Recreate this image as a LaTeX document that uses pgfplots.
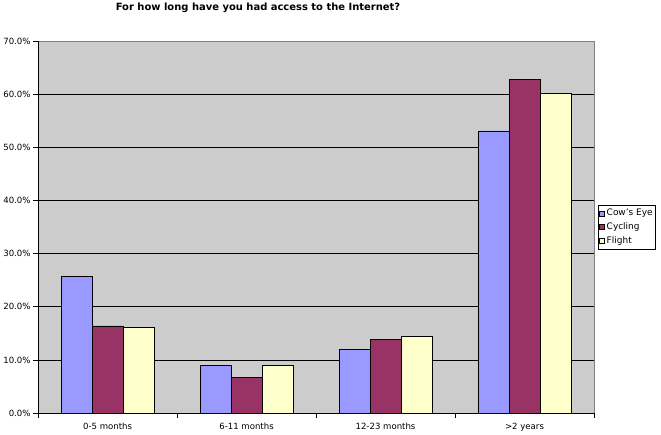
\documentclass[border=0pt]{standalone}
\usepackage{pgfplots}
\pgfplotsset{compat=1.18}
\usepackage{fontspec}
\setmainfont{DejaVu Sans}
\definecolor{bggray}{HTML}{CCCCCC}
\definecolor{cowc}{HTML}{9999FF}
\definecolor{cycc}{HTML}{993366}
\definecolor{flic}{HTML}{FFFFCC}
\begin{document}
\begin{tikzpicture}[x=1bp,y=1bp]
\path (-38bp,-20bp) rectangle (623bp,413bp);
\begin{axis}[
  at={(0,0)}, anchor=south west,
  scale only axis, width=556bp, height=372bp,
  ybar=0pt, bar width=31bp,
  xmin=-0.5, xmax=3.5, ymin=0, ymax=70,
  xtick={0,1,2,3},
  xticklabels={0-5 months,6-11 months,12-23 months,>2 years},
  minor xtick={-0.5,0.5,1.5,2.5,3.5},
  major x tick style={draw=none},
  minor tick length=5bp,
  tick align=outside,
  ytick={0,10,...,60},
  extra y ticks={70}, extra y tick style={grid=none},
  ymajorgrids, major grid style={black, line width=0.8pt},
  major tick length=5bp,
  tick style={black, line width=0.8pt},
  yticklabel={\pgfmathprintnumber[fixed,fixed zerofill,precision=1]{\tick}\%},
  /pgf/number format/assume math mode=true,
  ticklabel style={font=\fontsize{8.6}{9}\selectfont},
  yticklabel style={xshift=1bp},
  xticklabel style={yshift=-1bp},
  axis lines*=left,
  axis line style={black, line width=0.8pt, -},
  axis background/.style={fill=bggray, draw=gray, line width=0.8pt},
  legend style={at={(1,0.5)}, anchor=west, xshift=4bp, draw=black, line width=0.5pt,
    font=\fontsize{9}{10}\selectfont, row sep=1.5pt, inner xsep=1pt, inner ysep=2pt},
  legend cell align=left,
  legend image code/.code={\draw[#1, draw=black, line width=0.4pt] (0cm,-0.09cm) rectangle (0.18cm,0.09cm);},
]
\addplot[fill=cowc, draw=black, line width=0.8pt] coordinates {(0,25.8) (1,9.0) (2,12.0) (3,53.1)};
\addplot[fill=cycc, draw=black, line width=0.8pt] coordinates {(0,16.4) (1,6.7) (2,13.9) (3,62.8)};
\addplot[fill=flic, draw=black, line width=0.8pt] coordinates {(0,16.1) (1,9.0) (2,14.5) (3,60.2)};
\legend{Cow's Eye, Cycling, Flight}
\end{axis}
\node[font=\bfseries\fontsize{10}{12}\selectfont] at (220bp,405bp) {For how long have you had access to the Internet?};
\end{tikzpicture}
\end{document}
